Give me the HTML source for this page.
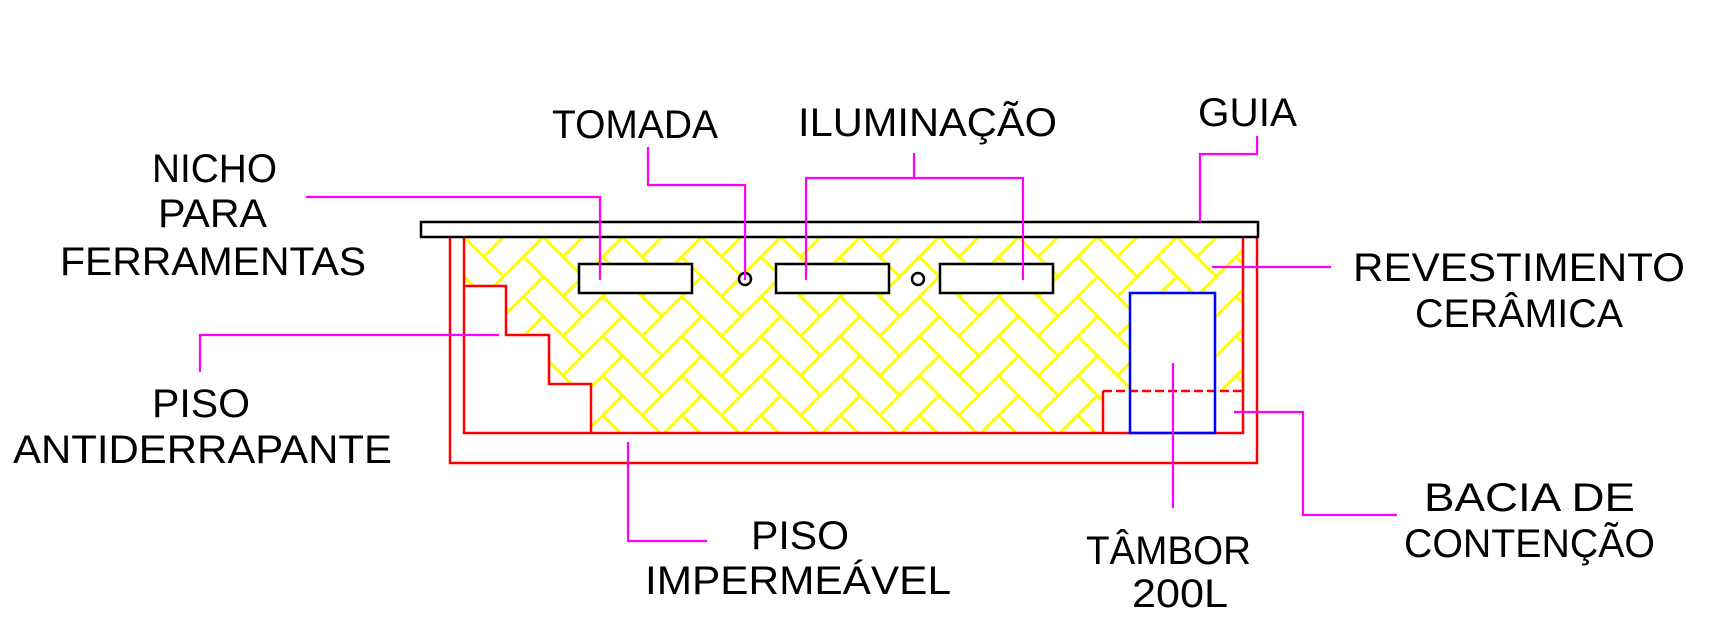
<!DOCTYPE html>
<html><head><meta charset="utf-8"><style>
html,body{margin:0;padding:0;background:#fff;}
svg{display:block;}
text{font-family:"Liberation Sans",sans-serif;font-size:40px;fill:#000;}
</style></head><body>
<svg width="1733" height="622" viewBox="0 0 1733 622" xmlns="http://www.w3.org/2000/svg">
<defs>
<pattern id="hb" patternUnits="userSpaceOnUse" x="464" y="237" width="79.196" height="39.598">
<g transform="rotate(45)" fill="none" stroke="#ffff00">
<g transform="scale(28)" stroke-width="0.1">
<g id="band">
<rect x="-6" y="-6" width="2" height="1"/><rect x="-4" y="-7" width="1" height="2"/>
<rect x="-5" y="-5" width="2" height="1"/><rect x="-3" y="-6" width="1" height="2"/>
<rect x="-4" y="-4" width="2" height="1"/><rect x="-2" y="-5" width="1" height="2"/>
<rect x="-3" y="-3" width="2" height="1"/><rect x="-1" y="-4" width="1" height="2"/>
<rect x="-2" y="-2" width="2" height="1"/><rect x="0" y="-3" width="1" height="2"/>
<rect x="-1" y="-1" width="2" height="1"/><rect x="1" y="-2" width="1" height="2"/>
<rect x="0" y="0" width="2" height="1"/><rect x="2" y="-1" width="1" height="2"/>
<rect x="1" y="1" width="2" height="1"/><rect x="3" y="0" width="1" height="2"/>
<rect x="2" y="2" width="2" height="1"/><rect x="4" y="1" width="1" height="2"/>
<rect x="3" y="3" width="2" height="1"/><rect x="5" y="2" width="1" height="2"/>
<rect x="4" y="4" width="2" height="1"/><rect x="6" y="3" width="1" height="2"/>
<rect x="5" y="5" width="2" height="1"/><rect x="7" y="4" width="1" height="2"/>
</g>
<use href="#band" transform="translate(-2,2)"/>
<use href="#band" transform="translate(2,-2)"/>
<use href="#band" transform="translate(-4,4)"/>
<use href="#band" transform="translate(4,-4)"/>
</g></g>
</pattern>
</defs>

<polygon points="464,237 1243,237 1243,391 1103,391 1103,433 591,433 591,384 549,384 549,335 506,335 506,286 464,286" fill="url(#hb)"/>

<rect x="1130" y="293" width="85" height="140" fill="#fff" stroke="none"/>

<g fill="none" stroke="#ff0000" stroke-width="2.5">
<polyline points="450,237 450,463 1257,463 1257,237"/>
<polyline points="464,237 464,433 1243,433 1243,237"/>
<polyline points="464,286 506,286 506,335 549,335 549,384 591,384 591,433"/>
<polyline points="1103,433 1103,391"/>
<line x1="1103" y1="391" x2="1243" y2="391" stroke-dasharray="9,4"/>
</g>

<rect x="1130" y="293" width="85" height="140" fill="none" stroke="#0000ff" stroke-width="2.5"/>

<rect x="421" y="222" width="837" height="15" fill="#fff" stroke="#000" stroke-width="2.5"/>

<g fill="#fff" stroke="#000" stroke-width="2.5">
<rect x="579" y="264" width="113" height="29"/>
<rect x="776" y="264" width="113" height="29"/>
<rect x="940" y="264" width="113" height="29"/>
<circle cx="745" cy="279" r="6"/>
<circle cx="918" cy="279" r="6"/>
</g>

<g fill="none" stroke="#ff00ff" stroke-width="2.2">
<polyline points="306,197 600,197 600,280"/>
<polyline points="648,147 648,185 745,185 745,280"/>
<polyline points="914,153 914,178"/>
<polyline points="806,280 806,178 1023,178 1023,280"/>
<polyline points="1257,136 1257,154 1200,154 1200,222"/>
<polyline points="1212,267 1331,267"/>
<polyline points="1234,412 1303,412 1303,515 1397,515"/>
<polyline points="1173,363 1173,508"/>
<polyline points="200,372 200,335 499,335"/>
<polyline points="628,442 628,541 707,541"/>
</g>

<text x="152" y="182" textLength="125" lengthAdjust="spacingAndGlyphs">NICHO</text>
<text x="158" y="227" textLength="109" lengthAdjust="spacingAndGlyphs">PARA</text>
<text x="60" y="275" textLength="306" lengthAdjust="spacingAndGlyphs">FERRAMENTAS</text>
<text x="552" y="138" textLength="166" lengthAdjust="spacingAndGlyphs">TOMADA</text>
<text x="798" y="136" textLength="259" lengthAdjust="spacingAndGlyphs">ILUMINAÇÃO</text>
<text x="1198" y="126" textLength="99" lengthAdjust="spacingAndGlyphs">GUIA</text>
<text x="1353" y="281" textLength="332" lengthAdjust="spacingAndGlyphs">REVESTIMENTO</text>
<text x="1415" y="327" textLength="208" lengthAdjust="spacingAndGlyphs">CERÂMICA</text>
<text x="152" y="417" textLength="98" lengthAdjust="spacingAndGlyphs">PISO</text>
<text x="13" y="463" textLength="379" lengthAdjust="spacingAndGlyphs">ANTIDERRAPANTE</text>
<text x="751" y="549" textLength="98" lengthAdjust="spacingAndGlyphs">PISO</text>
<text x="645" y="594" textLength="306" lengthAdjust="spacingAndGlyphs">IMPERMEÁVEL</text>
<text x="1086" y="564" textLength="165" lengthAdjust="spacingAndGlyphs">TÂMBOR</text>
<text x="1132" y="607" textLength="96" lengthAdjust="spacingAndGlyphs">200L</text>
<text x="1424" y="511" textLength="211" lengthAdjust="spacingAndGlyphs">BACIA DE</text>
<text x="1404" y="557" textLength="251" lengthAdjust="spacingAndGlyphs">CONTENÇÃO</text>
</svg>
</body></html>
